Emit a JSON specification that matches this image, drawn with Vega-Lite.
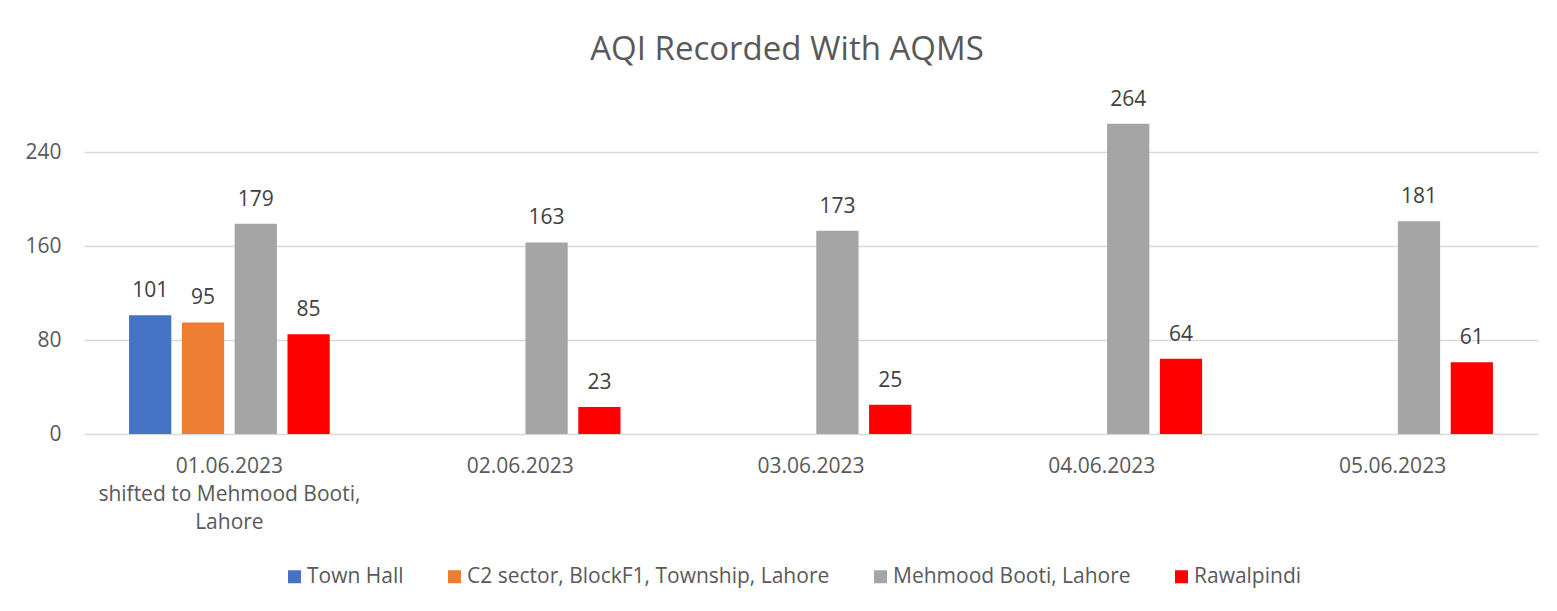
{
  "$schema": "https://vega.github.io/schema/vega-lite/v6.json",
  "width": 1454,
  "height": 329,
  "autosize": {"type": "none"},
  "padding": {"left": 84, "top": 105, "right": 19, "bottom": 177},
  "background": "white",
  "config": {"view": {"stroke": null}, "font": "Open Sans"},
  "title": {"text": "AQI Recorded With AQMS", "fontSize": 33, "font": "Open Sans", "fontWeight": "normal", "color": "#595959", "anchor": "middle", "frame": "group", "dx": -24, "offset": 22},
  "data": {"values": [
    {"date": "01.06.2023|shifted to Mehmood Booti,|Lahore", "series": "Town Hall", "aqi": 101},
    {"date": "01.06.2023|shifted to Mehmood Booti,|Lahore", "series": "C2 sector, BlockF1, Township, Lahore", "aqi": 95},
    {"date": "01.06.2023|shifted to Mehmood Booti,|Lahore", "series": "Mehmood Booti, Lahore", "aqi": 179},
    {"date": "01.06.2023|shifted to Mehmood Booti,|Lahore", "series": "Rawalpindi", "aqi": 85},
    {"date": "02.06.2023", "series": "Mehmood Booti, Lahore", "aqi": 163},
    {"date": "02.06.2023", "series": "Rawalpindi", "aqi": 23},
    {"date": "03.06.2023", "series": "Mehmood Booti, Lahore", "aqi": 173},
    {"date": "03.06.2023", "series": "Rawalpindi", "aqi": 25},
    {"date": "04.06.2023", "series": "Mehmood Booti, Lahore", "aqi": 264},
    {"date": "04.06.2023", "series": "Rawalpindi", "aqi": 64},
    {"date": "05.06.2023", "series": "Mehmood Booti, Lahore", "aqi": 181},
    {"date": "05.06.2023", "series": "Rawalpindi", "aqi": 61}
  ]},
  "encoding": {
    "x": {"field": "date", "type": "nominal", "sort": null,
      "scale": {"paddingInner": 0.31, "paddingOuter": 0.155},
      "axis": {"title": null, "labelAngle": 0, "labelExpr": "split(datum.label, '|')", "labelFontSize": 21, "labelColor": "#595959", "labelFont": "Open Sans", "labelLineHeight": 28, "labelLimit": 0, "domain": false, "ticks": false, "labelPadding": 21, "grid": false}},
    "xOffset": {"field": "series", "type": "nominal",
      "scale": {"domain": ["Town Hall", "C2 sector, BlockF1, Township, Lahore", "Mehmood Booti, Lahore", "Rawalpindi"], "paddingInner": 0.2, "paddingOuter": 0}},
    "y": {"field": "aqi", "type": "quantitative", "scale": {"domain": [0, 280]},
      "axis": {"title": null, "values": [0, 80, 160, 240], "grid": true, "gridColor": "#D9D9D9", "gridWidth": 1.3, "domain": false, "ticks": false, "labelFontSize": 21, "labelColor": "#595959", "labelFont": "Open Sans", "labelPadding": 23}}
  },
  "layer": [
    {"mark": {"type": "bar"},
     "encoding": {"color": {"field": "series", "type": "nominal",
       "scale": {"domain": ["Town Hall", "C2 sector, BlockF1, Township, Lahore", "Mehmood Booti, Lahore", "Rawalpindi"], "range": ["#4472C4", "#ED7D31", "#A5A5A5", "#FF0000"]},
       "legend": {"orient": "none", "legendX": 200, "legendY": 461, "direction": "horizontal", "title": null, "labelFontSize": 21, "labelColor": "#595959", "labelFont": "Open Sans", "labelLimit": 0, "symbolType": "square", "symbolSize": 169, "symbolStrokeWidth": 0, "columnPadding": 40, "labelOffset": 2}}}},
    {"mark": {"type": "text", "dy": -18, "baseline": "alphabetic", "fontSize": 21, "color": "#404040", "font": "Open Sans"},
     "encoding": {"text": {"field": "aqi", "type": "quantitative"}}}
  ]
}
